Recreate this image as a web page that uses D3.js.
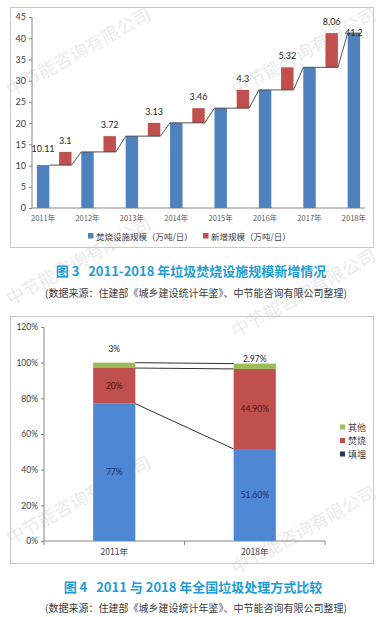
<!DOCTYPE html>
<html>
<head>
<meta charset="utf-8">
<script src="https://cdn.jsdelivr.net/npm/d3@7"></script>
<style>
  body { margin: 0; background: #ffffff; }
  svg text { font-family: "Lato", "Noto Sans CJK SC", sans-serif; }
  .cjk { font-family: "Noto Sans CJK SC", sans-serif; }
</style>
</head>
<body>
<div id="chart"></div>
<script>
// ---- 图3 data ----
var years1 = ["2011年", "2012年", "2013年", "2014年", "2015年", "2016年", "2017年", "2018年"];
var totals = [10.11, 13.21, 16.93, 20.06, 23.52, 27.82, 33.14, 41.2];
var increments = [3.1, 3.72, 3.13, 3.46, 4.3, 5.32, 8.06];
var yTicks1 = [0, 5, 10, 15, 20, 25, 30, 35, 40, 45];
var legend1 = ["焚烧设施规模（万吨/日）", "新增规模（万吨/日）"];

// ---- 图4 data ----
var years2 = ["2011年", "2018年"];
var landfill = [77, 51.6];
var incineration = [20, 44.9];
var other = [3, 2.97];
var landfillLabels = ["77%", "51.60%"];
var incinerationLabels = ["20%", "44.90%"];
var otherLabels = ["3%", "2.97%"];
var yTicks2 = [0, 20, 40, 60, 80, 100, 120];
var legend2 = ["其他", "焚烧", "填埋"];

var width = 388, height = 617;
var blue1 = "#4f81bd", red = "#c0504d", green = "#9bbb59", blue2 = "#4f87d4";
var capColor = "#1c9dd8";

var svg = d3.select("#chart").append("svg")
    .attr("width", width)
    .attr("height", height);

// watermarks
var marks = [
    [11, 97], [236, 97], [11, 306], [236, 338], [11, 545], [236, 575]
];
svg.append("g").selectAll("text")
    .data(marks).enter().append("text")
    .attr("class", "cjk")
    .attr("transform", function(d){ return "translate(" + d[0] + "," + d[1] + ") rotate(-29)"; })
    .attr("font-size", 18)
    .attr("fill", "#ebebeb")
    .text("中节能咨询有限公司");

// ================= 图3 =================
svg.append("rect")
    .attr("x", 10.5).attr("y", 7.5)
    .attr("width", 363).attr("height", 240)
    .attr("fill", "none")
    .attr("stroke", "#c8c8c8");

var slots = d3.range(years1.length * 2 - 1);
var x1 = d3.scaleBand()
    .domain(slots)
    .range([32, 365])
    .paddingInner(0.44)
    .paddingOuter(0.22);
var y1 = d3.scaleLinear().domain([0, 45]).range([208, 17]);
var bw = x1.bandwidth();

var yAxis1 = svg.append("g")
    .attr("transform", "translate(32,0)")
    .call(d3.axisLeft(y1).tickValues(yTicks1).tickSize(3).tickPadding(3));
yAxis1.selectAll("text").attr("font-size", 9).attr("fill", "#404040");
yAxis1.selectAll("line, path").attr("stroke", "#868686");
yAxis1.select("path").attr("d", "M0,17V208");

svg.append("line")
    .attr("x1", 32).attr("x2", 365)
    .attr("y1", y1(0)).attr("y2", y1(0))
    .attr("stroke", "#868686");

svg.append("g").selectAll("text")
    .data(years1).enter().append("text")
    .attr("class", "cjk")
    .attr("x", function(d, i){ return x1(i * 2) + bw / 2; })
    .attr("y", 221)
    .attr("text-anchor", "middle")
    .attr("font-size", 7.5)
    .attr("fill", "#595959")
    .text(function(d){ return d; });

svg.append("g").selectAll("rect")
    .data(totals).enter().append("rect")
    .attr("x", function(d, i){ return x1(i * 2); })
    .attr("y", function(d){ return y1(d); })
    .attr("width", bw)
    .attr("height", function(d){ return y1(0) - y1(d); })
    .attr("fill", blue1);

svg.append("g").selectAll("rect")
    .data(increments).enter().append("rect")
    .attr("x", function(d, i){ return x1(i * 2 + 1); })
    .attr("y", function(d, i){ return y1(totals[i] + d); })
    .attr("width", bw)
    .attr("height", function(d, i){ return y1(totals[i]) - y1(totals[i] + d); })
    .attr("fill", red);

// connector line
var pts = [];
totals.forEach(function(t, i){
    pts.push([x1(i * 2), y1(t)]);
    pts.push([x1(i * 2) + bw, y1(t)]);
    if (i < increments.length) pts.push([x1(i * 2 + 1) + bw, y1(t)]);
});
svg.append("path")
    .attr("d", d3.line()(pts.slice(1)))
    .attr("fill", "none")
    .attr("stroke", "#3f3f3f")
    .attr("stroke-width", 0.9);

svg.append("g").selectAll("text")
    .data(increments).enter().append("text")
    .attr("x", function(d, i){ return x1(i * 2 + 1) + bw / 2; })
    .attr("y", function(d, i){ return y1(totals[i] + d) - 8; })
    .attr("text-anchor", "middle")
    .attr("font-size", 9)
    .attr("fill", "#262626")
    .text(function(d){ return d; });

svg.append("text")
    .attr("x", x1(0) + bw / 2)
    .attr("y", y1(totals[0]) - 13)
    .attr("text-anchor", "middle")
    .attr("font-size", 9)
    .attr("fill", "#262626")
    .text(totals[0]);
var last = totals.length - 1;
svg.append("text")
    .attr("x", x1(last * 2) + bw / 2)
    .attr("y", y1(totals[last]) + 3)
    .attr("text-anchor", "middle")
    .attr("font-size", 9)
    .attr("fill", "#262626")
    .text(totals[last]);

var lg1 = svg.append("g").selectAll("g")
    .data(legend1).enter().append("g")
    .attr("transform", function(d, i){ return "translate(" + (i === 0 ? 88 : 203) + ",236)"; });
lg1.append("rect")
    .attr("x", 0).attr("y", -3)
    .attr("width", 5.5).attr("height", 5.5)
    .attr("fill", function(d, i){ return i === 0 ? blue1 : red; });
lg1.append("text")
    .attr("class", "cjk")
    .attr("x", 8).attr("y", 3.5)
    .attr("font-size", 8.5)
    .attr("fill", "#404040")
    .text(function(d){ return d; });

svg.append("text")
    .attr("class", "cjk")
    .attr("x", 191).attr("y", 276)
    .attr("text-anchor", "middle")
    .attr("font-size", 13)
    .attr("font-weight", "bold")
    .attr("fill", capColor)
    .text("图 3\u00a0\u00a0 2011-2018 年垃圾焚烧设施规模新增情况");

svg.append("text")
    .attr("class", "cjk")
    .attr("x", 196).attr("y", 297)
    .attr("text-anchor", "middle")
    .attr("font-size", 10)
    .attr("fill", "#3a3a3a")
    .text("(数据来源：住建部《城乡建设统计年鉴》、中节能咨询有限公司整理)");

// ================= 图4 =================
svg.append("rect")
    .attr("x", 10.5).attr("y", 316.5)
    .attr("width", 363).attr("height", 247)
    .attr("fill", "none")
    .attr("stroke", "#c8c8c8");

var x2 = d3.scaleBand()
    .domain(years2)
    .range([44, 325])
    .paddingInner(0.7)
    .paddingOuter(0.35);
var y2 = d3.scaleLinear().domain([0, 120]).range([541, 327]);
var bw2 = x2.bandwidth();

var yAxis2 = svg.append("g")
    .attr("transform", "translate(44,0)")
    .call(d3.axisLeft(y2).tickValues(yTicks2).tickSize(3).tickPadding(3)
        .tickFormat(function(d){ return d + "%"; }));
yAxis2.selectAll("text").attr("font-size", 8.5).attr("fill", "#404040");
yAxis2.selectAll("line, path").attr("stroke", "#868686");
yAxis2.select("path").attr("d", "M0,327V541");

var xAxis2 = svg.append("g")
    .attr("transform", "translate(0,541)");
xAxis2.append("line")
    .attr("x1", 44).attr("x2", 325)
    .attr("stroke", "#868686");
xAxis2.selectAll(".tk")
    .data([44, 44 + x2.step(), 325]).enter().append("line")
    .attr("x1", function(d){ return d; }).attr("x2", function(d){ return d; })
    .attr("y1", 0).attr("y2", 4)
    .attr("stroke", "#868686");
xAxis2.selectAll("text")
    .data(years2).enter().append("text")
    .attr("class", "cjk")
    .attr("x", function(d){ return x2(d) + bw2 / 2; })
    .attr("y", 14)
    .attr("text-anchor", "middle")
    .attr("font-size", 8.5)
    .attr("fill", "#404040")
    .text(function(d){ return d; });

var table = years2.map(function(y, i){
    return { year: y, landfill: landfill[i], incineration: incineration[i], other: other[i] };
});
var stack = d3.stack().keys(["landfill", "incineration", "other"])(table);
var colors2 = { landfill: blue2, incineration: red, other: green };

svg.append("g").selectAll("g")
    .data(stack).enter().append("g")
    .attr("fill", function(d){ return colors2[d.key]; })
    .selectAll("rect")
    .data(function(d){ return d; }).enter().append("rect")
    .attr("x", function(d){ return x2(d.data.year); })
    .attr("y", function(d){ return y2(d[1]); })
    .attr("width", bw2)
    .attr("height", function(d){ return y2(d[0]) - y2(d[1]); });

// series lines between the two bars
svg.append("g").selectAll("line")
    .data(stack).enter().append("line")
    .attr("x1", x2(years2[0]) + bw2)
    .attr("x2", x2(years2[1]))
    .attr("y1", function(d){ return y2(d[0][1]); })
    .attr("y2", function(d){ return y2(d[1][1]); })
    .attr("stroke", "#1a1a1a")
    .attr("stroke-width", 0.9);

function segLabels(labels, layer, color){
    svg.append("g").selectAll("text")
        .data(layer).enter().append("text")
        .attr("x", function(d){ return x2(d.data.year) + bw2 / 2; })
        .attr("y", function(d){ return y2((d[0] + d[1]) / 2) + 3; })
        .attr("text-anchor", "middle")
        .attr("font-size", 8.5)
        .attr("fill", color)
        .text(function(d, i){ return labels[i]; });
}
segLabels(landfillLabels, stack[0], "#1c2f5a");
segLabels(incinerationLabels, stack[1], "#4a1414");

svg.append("g").selectAll("text")
    .data(stack[2]).enter().append("text")
    .attr("x", function(d){ return x2(d.data.year) + bw2 / 2; })
    .attr("y", function(d, i){ return y2(d[1]) - (i === 0 ? 11 : 2); })
    .attr("text-anchor", "middle")
    .attr("font-size", 8.5)
    .attr("fill", "#1a1a1a")
    .text(function(d, i){ return otherLabels[i]; });

var lg2 = svg.append("g").selectAll("g")
    .data(legend2).enter().append("g")
    .attr("transform", function(d, i){ return "translate(340," + (427 + i * 13.5) + ")"; });
lg2.append("rect")
    .attr("x", 0).attr("y", -2.5)
    .attr("width", 5).attr("height", 5)
    .attr("fill", function(d, i){ return [green, red, "#1f3864"][i]; });
lg2.append("text")
    .attr("class", "cjk")
    .attr("x", 8).attr("y", 3.5)
    .attr("font-size", 9)
    .attr("fill", "#404040")
    .text(function(d){ return d; });

svg.append("text")
    .attr("class", "cjk")
    .attr("x", 193).attr("y", 592)
    .attr("text-anchor", "middle")
    .attr("font-size", 13)
    .attr("font-weight", "bold")
    .attr("fill", capColor)
    .text("图 4\u00a0\u00a0 2011 与 2018 年全国垃圾处理方式比较");

svg.append("text")
    .attr("class", "cjk")
    .attr("x", 196).attr("y", 612)
    .attr("text-anchor", "middle")
    .attr("font-size", 10)
    .attr("fill", "#3a3a3a")
    .text("(数据来源：住建部《城乡建设统计年鉴》、中节能咨询有限公司整理)");
</script>
</body>
</html>
